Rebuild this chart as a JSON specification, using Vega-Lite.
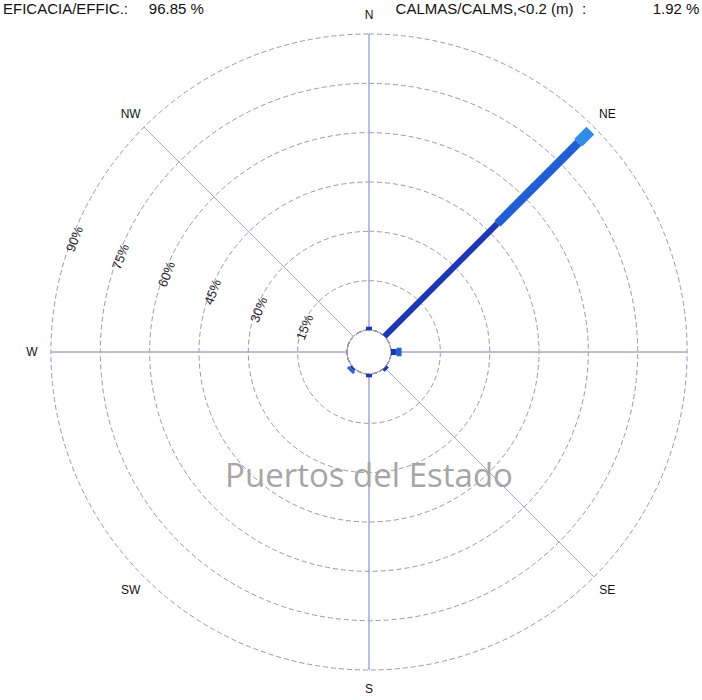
{
  "$schema": "https://vega.github.io/schema/vega-lite/v6.json",
  "width": 666,
  "height": 664,
  "autosize": {"type": "none"},
  "padding": {"left": 36, "top": 20, "right": 0, "bottom": 16},
  "background": "white",
  "config": {"view": {"stroke": null}, "font": "Liberation Sans"},
  "title": {
    "text": "EFICACIA/EFFIC.:\u00a0\u00a0\u00a0\u00a0\u00a096.85 %\u00a0\u00a0\u00a0\u00a0\u00a0\u00a0\u00a0\u00a0\u00a0\u00a0\u00a0\u00a0\u00a0\u00a0\u00a0\u00a0\u00a0\u00a0\u00a0\u00a0\u00a0\u00a0\u00a0\u00a0\u00a0\u00a0\u00a0\u00a0\u00a0\u00a0\u00a0\u00a0\u00a0\u00a0\u00a0\u00a0\u00a0\u00a0\u00a0\u00a0\u00a0\u00a0\u00a0\u00a0\u00a0\u00a0CALMAS/CALMS,<0.2 (m)\u00a0\u00a0:\u00a0\u00a0\u00a0\u00a0\u00a0\u00a0\u00a0\u00a0\u00a0\u00a0\u00a0\u00a0\u00a0\u00a0\u00a0\u00a01.92 %",
    "anchor": "start",
    "frame": "group",
    "orient": "top",
    "font": "Liberation Sans",
    "fontSize": 15,
    "fontWeight": "normal",
    "color": "#111111",
    "baseline": "alphabetic",
    "offset": 6,
    "dx": -33,
    "dy": 26
  },
  "datasets": {
    "anillos": [
      {"pct": 0, "etiqueta": ""},
      {"pct": 15, "etiqueta": "15%"},
      {"pct": 30, "etiqueta": "30%"},
      {"pct": 45, "etiqueta": "45%"},
      {"pct": 60, "etiqueta": "60%"},
      {"pct": 75, "etiqueta": "75%"},
      {"pct": 90, "etiqueta": "90%"}
    ],
    "ejes": [
      {"dir": 0}, {"dir": 90}, {"dir": 180}, {"dir": 270}, {"dir": 135}, {"dir": 315}
    ],
    "rumbos": [
      {"dir": 0, "rumbo": "N"},
      {"dir": 45, "rumbo": "NE"},
      {"dir": 90, "rumbo": "E"},
      {"dir": 135, "rumbo": "SE"},
      {"dir": 180, "rumbo": "S"},
      {"dir": 225, "rumbo": "SW"},
      {"dir": 270, "rumbo": "W"},
      {"dir": 315, "rumbo": "NW"}
    ],
    "oleaje": [
      {"dir": 45, "clase": "Hs1", "pct": 48.6},
      {"dir": 45, "clase": "Hs2", "pct": 34.7},
      {"dir": 45, "clase": "Hs3", "pct": 5.2},
      {"dir": 90, "clase": "Hs1", "pct": 1.7},
      {"dir": 90, "clase": "Hs2", "pct": 1.5},
      {"dir": 0, "clase": "Hs1", "pct": 1.0},
      {"dir": 135, "clase": "Hs1", "pct": 0.9},
      {"dir": 180, "clase": "Hs1", "pct": 1.0},
      {"dir": 225, "clase": "Hs1", "pct": 0.6},
      {"dir": 225, "clase": "Hs2", "pct": 0.9}
    ]
  },
  "layer": [
    {
      "data": {"name": "anillos"},
      "mark": {"type": "arc", "filled": false, "stroke": "#9597b8", "strokeWidth": 1, "strokeDash": [5, 3], "theta": 0, "theta2": 6.2832},
      "encoding": {
        "radius": {"field": "pct", "type": "quantitative", "stack": null, "scale": {"type": "linear", "zero": false, "domain": [0, 90], "range": [22, 318]}}
      }
    },
    {
      "data": {"name": "ejes"},
      "mark": {"type": "arc", "filled": false, "stroke": "#a4a6dc", "strokeWidth": 1},
      "encoding": {
        "theta": {"field": "dir", "type": "quantitative", "stack": null, "scale": {"type": "linear", "domain": [0, 360], "range": [0, 6.283185307179586]}},
        "theta2": {"field": "dir"},
        "radius": {"datum": 90, "type": "quantitative", "stack": null, "scale": {"type": "linear", "zero": false, "domain": [0, 90], "range": [22, 318]}},
        "radius2": {"datum": 0}
      }
    },
    {
      "data": {"values": [{"marca": "Puertos del Estado"}]},
      "mark": {"type": "text", "font": "Open Sans", "fontSize": 33, "color": "#a6a6a6", "align": "center", "baseline": "alphabetic"},
      "encoding": {
        "text": {"field": "marca"},
        "theta": {"datum": 180, "type": "quantitative", "scale": {"type": "linear", "domain": [0, 360], "range": [0, 6.283185307179586]}},
        "radius": {"datum": 34.4, "type": "quantitative", "scale": {"type": "linear", "zero": false, "domain": [0, 90], "range": [22, 318]}}
      }
    },
    {
      "data": {"name": "oleaje"},
      "transform": [
        {"stack": "pct", "groupby": ["dir"], "sort": [{"field": "clase", "order": "ascending"}], "as": ["r0", "r1"]}
      ],
      "mark": {"type": "arc", "filled": false, "strokeJoin": "miter"},
      "encoding": {
        "theta": {"field": "dir", "type": "quantitative", "stack": null, "scale": {"type": "linear", "domain": [0, 360], "range": [0, 6.283185307179586]}},
        "theta2": {"field": "dir"},
        "radius": {"field": "r1", "type": "quantitative", "stack": null, "scale": {"type": "linear", "zero": false, "domain": [0, 90], "range": [22, 318]}},
        "radius2": {"field": "r0"},
        "stroke": {"field": "clase", "type": "ordinal", "scale": {"domain": ["Hs1", "Hs2", "Hs3"], "range": ["#1b35bb", "#1f5ed4", "#2f8cea"]}, "legend": null},
        "strokeWidth": {"field": "clase", "type": "ordinal", "scale": {"domain": ["Hs1", "Hs2", "Hs3"], "range": [6, 11, 16]}, "legend": null}
      }
    },
    {
      "data": {"name": "anillos"},
      "transform": [{"filter": "datum.pct > 0"}],
      "mark": {"type": "text", "fontSize": 13, "color": "#222222", "angle": 291, "align": "center", "baseline": "middle", "dy": 3},
      "encoding": {
        "text": {"field": "etiqueta"},
        "theta": {"datum": 291, "type": "quantitative", "scale": {"type": "linear", "domain": [0, 360], "range": [0, 6.283185307179586]}},
        "radius": {"field": "pct", "type": "quantitative", "stack": null, "scale": {"type": "linear", "zero": false, "domain": [0, 90], "range": [22, 318]}}
      }
    },
    {
      "data": {"name": "rumbos"},
      "mark": {"type": "text", "fontSize": 12, "color": "#111111", "align": "center", "baseline": "middle"},
      "encoding": {
        "text": {"field": "rumbo"},
        "theta": {"field": "dir", "type": "quantitative", "scale": {"type": "linear", "domain": [0, 360], "range": [0, 6.283185307179586]}},
        "radius": {"datum": 95.8, "type": "quantitative", "scale": {"type": "linear", "zero": false, "domain": [0, 90], "range": [22, 318]}}
      }
    }
  ]
}
